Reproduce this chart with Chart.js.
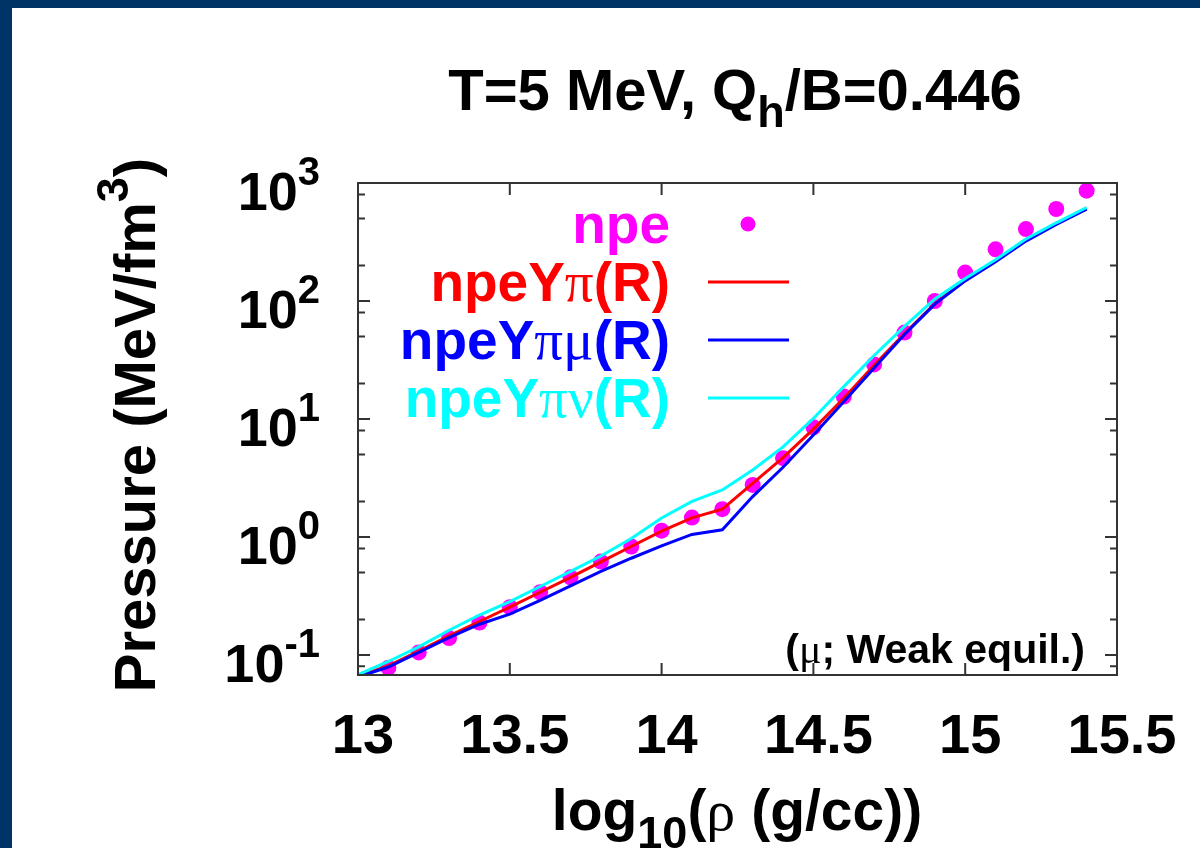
<!DOCTYPE html>
<html>
<head>
<meta charset="utf-8">
<script src="https://cdn.jsdelivr.net/npm/chart.js@4.4.0/dist/chart.umd.min.js"></script>
<style>
  html, body { margin: 0; padding: 0; background: #003366; }
  canvas { display: block; }
</style>
</head>
<body>
<canvas id="pressureChart" width="1200" height="848"></canvas>
<script>
// --- data ---
const rho = [13.0, 13.1, 13.2, 13.3, 13.4, 13.5, 13.6, 13.7, 13.8, 13.9, 14.0, 14.1, 14.2,
             14.3, 14.4, 14.5, 14.6, 14.7, 14.8, 14.9, 15.0, 15.1, 15.2, 15.3, 15.4];
const pNpeYpi   = [0.066, 0.081, 0.108, 0.145, 0.192, 0.254, 0.34, 0.455, 0.615, 0.83, 1.12, 1.45, 1.72,
                   2.85, 4.7, 8.2, 15.0, 28.5, 53, 95, 150, 220, 330, 455, 610];
const pNpeYpiMu = [0.065, 0.079, 0.105, 0.14, 0.182, 0.222, 0.29, 0.385, 0.51, 0.66, 0.84, 1.05, 1.15,
                   2.2, 3.9, 7.3, 14, 27, 52, 94, 148, 215, 322, 445, 600];
const pNpeYpiNu = [0.068, 0.088, 0.117, 0.162, 0.218, 0.283, 0.38, 0.51, 0.69, 0.97, 1.45, 2.0, 2.5,
                   3.7, 5.8, 10.1, 18.8, 34.5, 61, 104, 155, 224, 335, 460, 620];

const rhoNpe = [13.1, 13.2, 13.3, 13.4, 13.5, 13.6, 13.7, 13.8, 13.9, 14.0, 14.1, 14.2,
                14.3, 14.4, 14.5, 14.6, 14.7, 14.8, 14.9, 15.0, 15.1, 15.2, 15.3, 15.4];
const pNpe = [0.078, 0.105, 0.139, 0.188, 0.254, 0.34, 0.455, 0.618, 0.83, 1.13, 1.46, 1.72,
              2.76, 4.65, 8.5, 15.5, 29, 54, 100, 174, 274, 407, 602, 861];

const xTickValues = [13, 13.5, 14, 14.5, 15, 15.5];
const xTickLabels = ["13", "13.5", "14", "14.5", "15", "15.5"];
const yDecades = [0.1, 1, 10, 100, 1000];
const yExponents = ["-1", "0", "1", "2", "3"];
const yMinorTicks = [0.08, 0.2, 0.5, 0.8, 2, 5, 8, 20, 50, 80, 200, 500, 800];

const SANS = '"Liberation Sans", Arial, sans-serif';
const SERIF = '"Liberation Serif", "DejaVu Serif", serif';

const toPoints = (xs, ys) => xs.map((x, i) => ({ x: x, y: ys[i] }));

// text made of runs: [text, font, dy]
function drawRich(ctx, parts, x, y, align) {
  let total = 0;
  const widths = parts.map(([t, f]) => {
    ctx.font = f;
    const w = ctx.measureText(t).width;
    total += w;
    return w;
  });
  let cx = align === "center" ? x - total / 2 : align === "right" ? x - total : x;
  ctx.textAlign = "left";
  ctx.textBaseline = "alphabetic";
  parts.forEach(([t, f, dy], i) => {
    ctx.font = f;
    ctx.fillText(t, cx, y + (dy || 0));
    cx += widths[i];
  });
}

// split a label so greek letters go in the serif (symbol-like) font
function labelRuns(label, size) {
  return label.split(/([\u03b1-\u03c9]+)/).filter((s) => s).map((s) =>
    /[\u03b1-\u03c9]/.test(s) ? [s, size + 2 + "px " + SERIF, 0] : [s, "bold " + size + "px " + SANS, 0]
  );
}

const gnuplotDecor = {
  id: "gnuplotDecor",
  beforeDraw(chart) {
    const c = chart.ctx;
    c.save();
    c.fillStyle = "#003366";
    c.fillRect(0, 0, chart.width, chart.height);
    c.fillStyle = "#ffffff";
    c.fillRect(12, 8, chart.width - 12, chart.height - 8);
    c.restore();
  },
  afterDraw(chart) {
    const c = chart.ctx;
    const { left, right, top, bottom } = chart.chartArea;
    const xs = chart.scales.x;
    const ys = chart.scales.y;
    c.save();

    // frame + inward ticks
    c.strokeStyle = "#333333";
    c.lineWidth = 2;
    c.strokeRect(left, top, right - left, bottom - top);
    c.beginPath();
    xTickValues.forEach((v) => {
      const px = xs.getPixelForValue(v);
      c.moveTo(px, bottom); c.lineTo(px, bottom - 12);
      c.moveTo(px, top); c.lineTo(px, top + 12);
    });
    yDecades.forEach((v) => {
      const py = ys.getPixelForValue(v);
      c.moveTo(left, py); c.lineTo(left + 12, py);
      c.moveTo(right, py); c.lineTo(right - 12, py);
    });
    yMinorTicks.forEach((v) => {
      const py = ys.getPixelForValue(v);
      c.moveTo(left, py); c.lineTo(left + 7, py);
      c.moveTo(right, py); c.lineTo(right - 7, py);
    });
    c.stroke();

    c.fillStyle = "#000000";
    // x tick labels
    xTickValues.forEach((v, i) => {
      drawRich(c, [[xTickLabels[i], "bold 56px " + SANS, 0]], xs.getPixelForValue(v) + 5, 753, "center");
    });
    // y tick labels 10^n
    yDecades.forEach((v, i) => {
      const py = ys.getPixelForValue(v);
      drawRich(c, [["10", "bold 54px " + SANS, 0], [yExponents[i], "bold 40px " + SANS, -25]], 320, py + 27, "right");
    });

    // title
    drawRich(c, [
      ["T=5 MeV, Q", "bold 58px " + SANS, 0],
      ["h", "bold 45px " + SANS, 17],
      ["/B=0.446", "bold 58px " + SANS, 0],
    ], 735, 110, "center");

    // x axis title
    drawRich(c, [
      ["log", "bold 57px " + SANS, 0],
      ["10", "bold 45px " + SANS, 18],
      ["(", "bold 57px " + SANS, 0],
      ["\u03c1", "58px " + SERIF, 0],
      [" (g/cc))", "bold 57px " + SANS, 0],
    ], 737, 830, "center");

    // y axis title (rotated)
    c.save();
    c.translate(155, 425);
    c.rotate(-Math.PI / 2);
    drawRich(c, [
      ["Pressure (MeV/fm", "bold 58px " + SANS, 0],
      ["3", "bold 45px " + SANS, -27],
      [")", "bold 58px " + SANS, 0],
    ], 0, 0, "center");
    c.restore();

    // note in the corner
    drawRich(c, [
      ["(", "bold 41px " + SANS, 0],
      ["\u03bc", "42px " + SERIF, 0],
      ["; Weak equil.)", "bold 41px " + SANS, 0],
    ], 1085, 663, "right");

    // key: label right-aligned, sample to its right
    const rows = [224, 282, 340, 398];
    chart.data.datasets.forEach((ds, i) => {
      const cy = rows[i];
      c.fillStyle = ds.borderColor;
      drawRich(c, labelRuns(ds.label, 55), 670, cy + 19, "right");
      if (ds.showLine) {
        c.strokeStyle = ds.borderColor;
        c.lineWidth = 3;
        c.beginPath();
        c.moveTo(708, cy);
        c.lineTo(789, cy);
        c.stroke();
      } else {
        c.beginPath();
        c.arc(748, cy, 7.5, 0, Math.PI * 2);
        c.fill();
      }
    });

    c.restore();
  },
};

const ctxPressure = document.getElementById("pressureChart");

const pressureChart = new Chart(ctxPressure, {
  type: "scatter",
  data: {
    datasets: [
      {
        label: "npe",
        data: toPoints(rhoNpe, pNpe),
        backgroundColor: "#ff00ff",
        borderColor: "#ff00ff",
        borderWidth: 0,
        pointRadius: 8,
        showLine: false,
        clip: false,
        order: 4,
      },
      {
        label: "npeY\u03c0(R)",
        data: toPoints(rho, pNpeYpi),
        borderColor: "#ff0000",
        borderWidth: 3,
        showLine: true,
        pointRadius: 0,
        order: 3,
      },
      {
        label: "npeY\u03c0\u03bc(R)",
        data: toPoints(rho, pNpeYpiMu),
        borderColor: "#0000ff",
        borderWidth: 3,
        showLine: true,
        pointRadius: 0,
        order: 2,
      },
      {
        label: "npeY\u03c0\u03bd(R)",
        data: toPoints(rho, pNpeYpiNu),
        borderColor: "#00ffff",
        borderWidth: 3,
        showLine: true,
        pointRadius: 0,
        order: 1,
      },
    ],
  },
  options: {
    responsive: false,
    animation: false,
    layout: { padding: { left: 358, top: 183, right: 83, bottom: 173 } },
    scales: {
      x: { type: "linear", min: 13, max: 15.5, display: false },
      y: { type: "logarithmic", min: 0.0676, max: 1000, display: false },
    },
    plugins: {
      legend: { display: false },
      tooltip: { enabled: false },
    },
  },
  plugins: [gnuplotDecor],
});
</script>
</body>
</html>
